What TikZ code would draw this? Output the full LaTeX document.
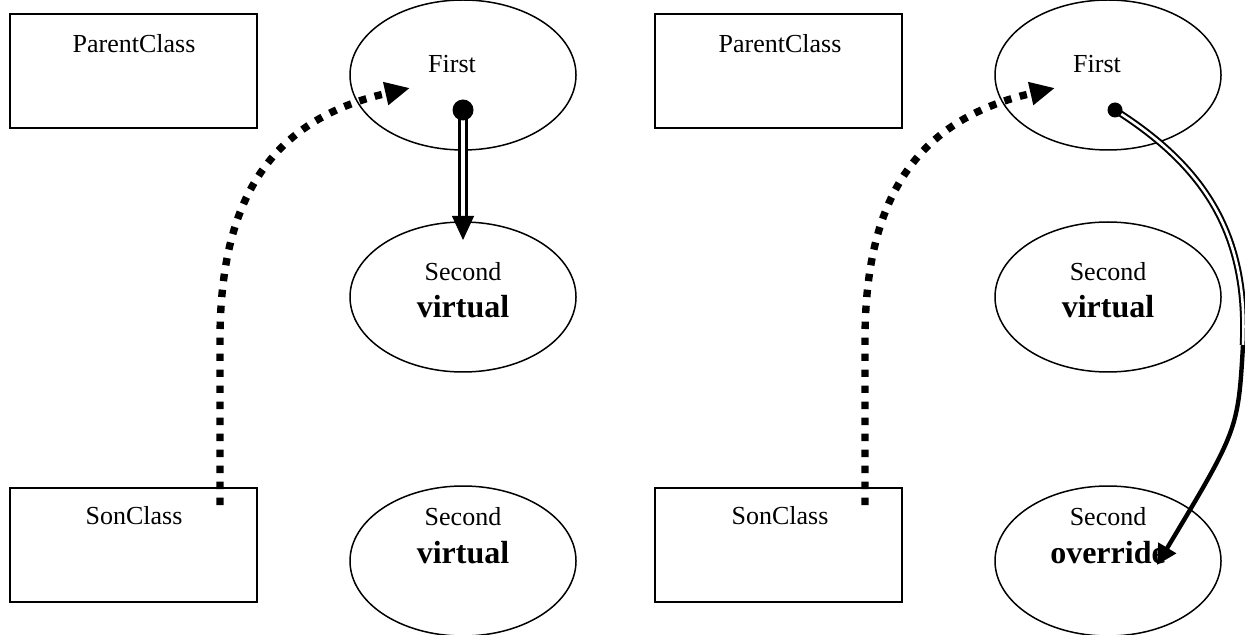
\documentclass[tikz,border=0pt]{standalone}
\usepackage{fontspec}
\setmainfont{Liberation Serif}
\usetikzlibrary{arrows.meta,shapes.geometric}
\begin{document}
\begin{tikzpicture}[x=0.5pt,y=-0.5pt,
  classbox/.style={draw,line width=1pt,minimum width=123.5pt,minimum height=57pt,inner sep=0pt},
  oval/.style={draw,ellipse,line width=0.75pt,minimum width=113pt,minimum height=75pt,inner sep=0pt},
  lbl/.style={font=\fontsize{13}{15}\selectfont,inner sep=0pt},
  blbl/.style={font=\fontsize{16}{18}\selectfont\bfseries,inner sep=0pt},
  dotflow/.style={line width=3.7pt,dash pattern=on 3.7pt off 4.3pt,-{Triangle[length=12.5pt,width=11pt]}},
  pin/.style={fill,circle,inner sep=0pt}]
\useasboundingbox (0,0) rectangle (1245,635);
% ---------- left panel ----------
\node[classbox] (pL) at (133.5,71) {};
\node[lbl] (pLt) at (134,44) {ParentClass};
\node[classbox] (sL) at (133.5,545) {};
\node[lbl] (sLt) at (134,516) {SonClass};
\node[oval] (fL) at (463,75) {};
\node[lbl] (fLt) at (452,64) {First};
\node[oval] (mL) at (463,297) {};
\node[lbl] (mLa) at (463,272) {Second};
\node[blbl] (mLb) at (463,307) {virtual};
\node[oval] (bL) at (463,561) {};
\node[lbl] (bLa) at (463,517) {Second};
\node[blbl] (bLb) at (463,553) {virtual};
\coordinate (startL) at (220,505);
\coordinate (tipL) at (410,88);
\coordinate (downL) at (463,240);
\draw[dotflow] (startL) -- (220,340) .. controls (220,200) and (270,120) .. (tipL);
\draw[double,double distance=2pt,line width=1.5pt] (463,110) -- (463,222);
\draw[-{Triangle[length=12pt,width=11pt]},line width=0.5pt] (463,218) -- (downL);
\node[pin,minimum size=10.5pt] (dL) at (463,110) {};
% ---------- right panel ----------
\node[classbox] (pR) at (778.5,71) {};
\node[lbl] (pRt) at (780,44) {ParentClass};
\node[classbox] (sR) at (778.5,545) {};
\node[lbl] (sRt) at (780,516) {SonClass};
\node[oval] (fR) at (1108,75) {};
\node[lbl] (fRt) at (1097,64) {First};
\node[oval] (mR) at (1108,297) {};
\node[lbl] (mRa) at (1108,272) {Second};
\node[blbl] (mRb) at (1108,307) {virtual};
\node[oval] (bR) at (1108,561) {};
\node[lbl] (bRa) at (1108,517) {Second};
\node[blbl] (bRb) at (1108,553) {override};
\coordinate (startR) at (865,505);
\coordinate (tipR) at (1055,88);
\draw[dotflow] (startR) -- (865,340) .. controls (865,200) and (915,120) .. (tipR);
\coordinate (midR) at (1243,345);
\coordinate (endR) at (1157,565);
\draw[double,double distance=1.3pt,line width=1pt] (1115,110) .. controls (1210,170) and (1248,240) .. (midR);
\draw[line width=2.2pt,-{Triangle[length=10pt,width=10pt]}] (midR) .. controls (1238,430) .. (endR);
\node[pin,minimum size=7.5pt] (dR) at (1115,110) {};
\end{tikzpicture}
\end{document}
